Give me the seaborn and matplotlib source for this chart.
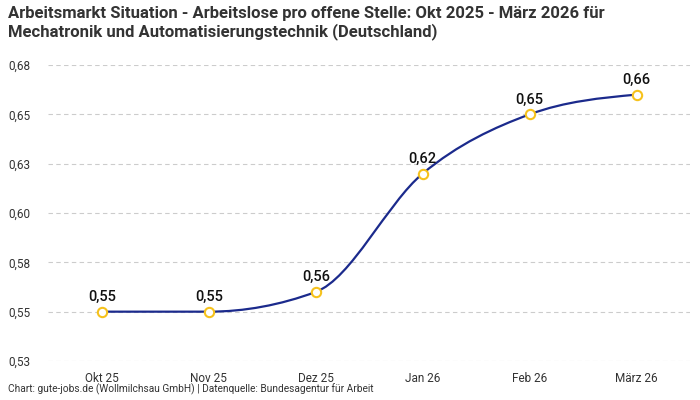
#!/usr/bin/env python3

import matplotlib.pyplot as plt
import pandas as pd
import seaborn as sns
from matplotlib.path import Path
from matplotlib.patches import PathPatch
from typing import List


# Arbeitslose pro offene Stelle, Mechatronik und Automatisierungstechnik
months: List[str] = ["Okt 25", "Nov 25", "Dez 25", "Jan 26", "Feb 26", "März 26"]
ratio: List[float] = [0.55, 0.55, 0.56, 0.62, 0.65, 0.66]
y_ticks: List[float] = [0.525, 0.55, 0.575, 0.60, 0.625, 0.65, 0.675]
y_labels: List[str] = ["0,53", "0,55", "0,58", "0,60", "0,63", "0,65", "0,68"]

df: pd.DataFrame = pd.DataFrame({"pos": range(len(months)), "month": months, "ratio": ratio})

LINE = "#1b2a8c"
DOT = "#f6c21c"
TXT = "#333333"


def monotone_path(xs, ys):
    # monotone cubic (like d3 curveMonotoneX) as bezier segments
    n = len(xs)
    h = [xs[i + 1] - xs[i] for i in range(n - 1)]
    s = [(ys[i + 1] - ys[i]) / h[i] for i in range(n - 1)]
    t = [0.0] * n
    for i in range(1, n - 1):
        p = (s[i - 1] * h[i] + s[i] * h[i - 1]) / (h[i - 1] + h[i])
        sign = (s[i - 1] > 0) - (s[i - 1] < 0) + (s[i] > 0) - (s[i] < 0)
        t[i] = sign * min(abs(s[i - 1]), abs(s[i]), 0.5 * abs(p))
    t[0] = (3 * s[0] - t[1]) / 2
    t[-1] = (3 * s[-1] - t[-2]) / 2
    verts = [(xs[0], ys[0])]
    codes = [Path.MOVETO]
    for i in range(n - 1):
        dx = h[i] / 3
        verts += [(xs[i] + dx, ys[i] + dx * t[i]),
                  (xs[i + 1] - dx, ys[i + 1] - dx * t[i + 1]),
                  (xs[i + 1], ys[i + 1])]
        codes += [Path.CURVE4] * 3
    return Path(verts, codes)


sns.set_theme(style="white")
plt.rcParams["font.family"] = ["Roboto", "DejaVu Sans"]

fig = plt.figure(figsize=(7, 4), dpi=100)
ax = fig.add_axes([0.069, 0.0975, 0.917, 0.74])

ax.add_patch(PathPatch(monotone_path(list(df["pos"]), list(df["ratio"])),
                       facecolor="none", edgecolor=LINE, lw=1.6, zorder=3))
sns.scatterplot(data=df, x="pos", y="ratio", ax=ax, s=45, color="white",
                edgecolor=DOT, linewidth=1.5, zorder=4, legend=False)

for x, y in zip(df["pos"], df["ratio"]):
    ax.annotate(f"{y:.2f}".replace(".", ","), (x, y), xytext=(0, 5.5),
                textcoords="offset points", ha="center", va="bottom",
                fontsize=10.5, fontweight="medium", color="#111111")

ax.set_xlim(-0.5, len(months) - 0.5)
ax.set_ylim(0.525, 0.675)
ax.set_xticks(list(df["pos"]), months)
ax.set_yticks(y_ticks, y_labels)
ax.tick_params(axis="both", length=0, labelsize=8.5, colors=TXT)
ax.tick_params(axis="y", pad=13)
ax.tick_params(axis="x", pad=8)
ax.grid(axis="y", color="#cccccc", linestyle=(0, (4, 3)), lw=0.8)
ax.set_axisbelow(True)
ax.set_xlabel("")
ax.set_ylabel("")
for sp in ax.spines.values():
    sp.set_visible(False)

fig.text(0.012, 0.985, "Arbeitsmarkt Situation - Arbeitslose pro offene Stelle: Okt 2025 - März 2026 für\n"
         "Mechatronik und Automatisierungstechnik (Deutschland)",
         ha="left", va="top", fontsize=12, fontweight="bold", color=TXT, linespacing=1.15)
fig.text(0.012, 0.012, "Chart: gute-jobs.de (Wollmilchsau GmbH) | Datenquelle: Bundesagentur für Arbeit",
         ha="left", va="bottom", fontsize=7.3, color=TXT)

fig.savefig("out.png", dpi=100)
